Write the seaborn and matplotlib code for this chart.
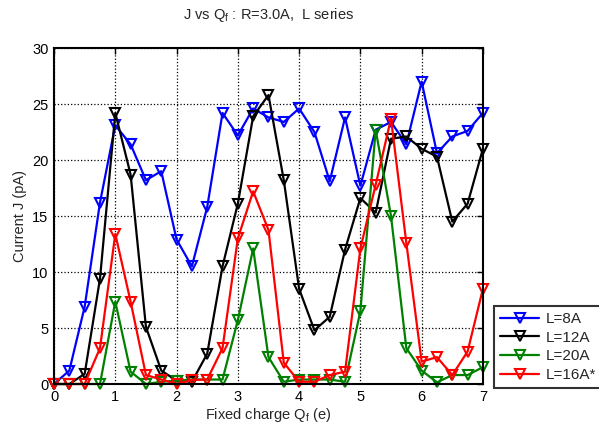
import numpy as np
import pandas as pd
import matplotlib
matplotlib.use('Agg')
import matplotlib.pyplot as plt
import seaborn as sns

qf = [0, 0.25, 0.5, 0.75, 1, 1.25, 1.5, 1.75, 2, 2.25, 2.5, 2.75, 3, 3.25, 3.5,
      3.75, 4, 4.25, 4.5, 4.75, 5, 5.25, 5.5, 5.75, 6, 6.25, 6.5, 6.75, 7]

j_8a = [0, 1.2, 6.9, 16.2, 23.1, 21.4, 18.2, 19.0, 12.9, 10.5, 15.8, 24.2, 22.2, 24.6, 23.8,
        23.4, 24.6, 22.5, 18.1, 23.8, 17.7, 22.7, 23.4, 21.4, 27.0, 20.6, 22.1, 22.6, 24.2]
j_12a = [0, 0, 0.9, 9.4, 24.2, 18.7, 5.1, 1.2, 0.3, 0.2, 2.7, 10.5, 16.1, 23.9, 25.8,
         18.2, 8.5, 4.8, 6.0, 12.0, 16.6, 15.3, 21.9, 22.1, 21.0, 20.3, 14.5, 16.1, 21.0]
j_20a = [0, 0, 0, 0, 7.35, 1.1, 0, 0.2, 0.3, 0.4, 0.4, 0.4, 5.7, 12.1, 2.4,
         0.2, 0.4, 0.4, 0.4, 0.2, 6.5, 22.7, 15.0, 3.2, 1.2, 0.15, 0.8, 0.8, 1.5]
j_16a = [0, 0, 0, 3.2, 13.4, 7.35, 0.8, 0.4, 0, 0.36, 0.4, 3.2, 13.0, 17.2, 13.75,
         1.9, 0.2, 0.2, 0.8, 1.1, 12.1, 17.8, 23.7, 12.6, 2.0, 2.4, 0.8, 2.9, 8.5]

series = [("L=8A", j_8a, "#0000ff"),
          ("L=12A", j_12a, "#000000"),
          ("L=20A", j_20a, "#008000"),
          ("L=16A*", j_16a, "#ff0000")]

sns.set_style("white")
plt.rcParams['font.family'] = ['Liberation Sans', 'DejaVu Sans']
plt.rcParams['mathtext.fontset'] = 'custom'
plt.rcParams['mathtext.rm'] = 'Liberation Sans'
plt.rcParams['mathtext.it'] = 'Liberation Sans'

fig = plt.figure(figsize=(5.99, 4.28), dpi=100)
ax = fig.add_axes([0.0902, 0.1028, 0.716, 0.785])

for name, vals, col in series:
    df = pd.DataFrame({"Qf": qf, "J": vals})
    sns.lineplot(data=df, x="Qf", y="J", ax=ax, color=col, marker="v",
                 markersize=7, markerfacecolor="none", markeredgecolor=col,
                 markeredgewidth=1.5, linewidth=1.6, label=name, clip_on=False)

ax.set_xlim(0, 7)
ax.set_ylim(0, 30)
ax.set_xticks(range(0, 8))
ax.set_yticks(range(0, 31, 5))
ax.grid(True, linestyle=':', color='black', linewidth=0.9)
ax.tick_params(direction='in', top=True, right=True, labelsize=10.5,
               length=4, width=1, colors='black', pad=4)
for s in ax.spines.values():
    s.set_color('black')
    s.set_linewidth(1.5)

ax.set_title(r"J vs Q$_\mathregular{f}$ : R=3.0A,  L series", fontsize=10.5, pad=21)
ax.set_xlabel(r"Fixed charge Q$_\mathregular{f}$ (e)", fontsize=10.5, labelpad=2)
ax.set_ylabel("Current J (pA)", fontsize=10.5, labelpad=4)

leg = ax.legend(loc='lower left', bbox_to_anchor=(1.025, -0.012), fontsize=11,
                frameon=True, fancybox=False, handlelength=2.6, borderaxespad=0,
                labelspacing=0.3, handletextpad=0.4, borderpad=0.4)
leg.get_frame().set_edgecolor('black')
leg.get_frame().set_linewidth(1.5)

fig.savefig("out.png", dpi=100)
